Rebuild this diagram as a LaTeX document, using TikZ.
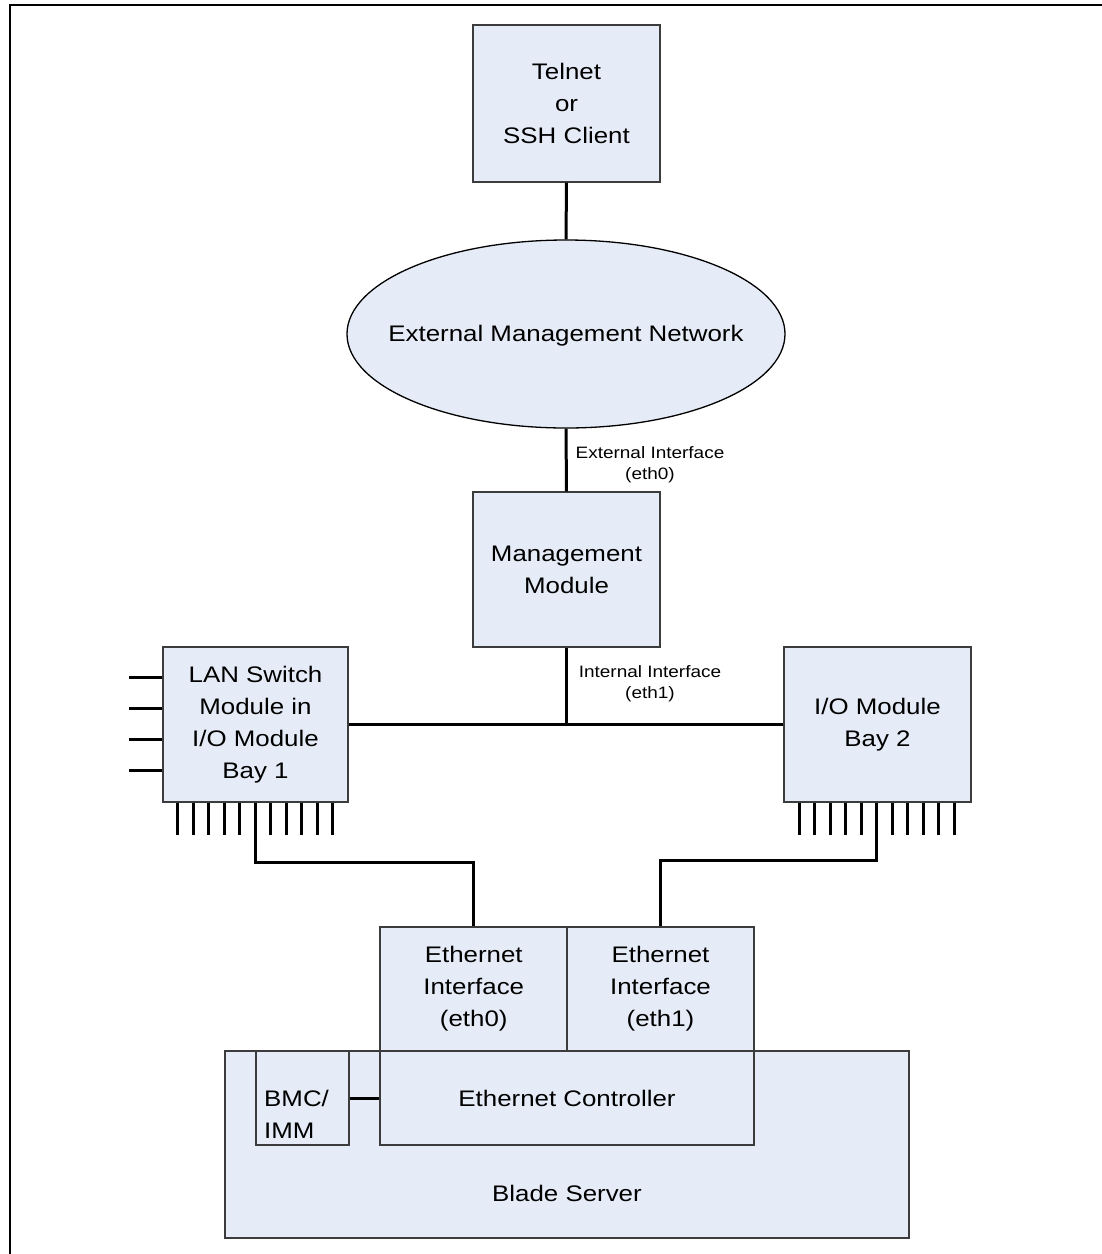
\documentclass[tikz,border=0pt]{standalone}
\usepackage{fontspec}
\setmainfont[FakeStretch=1.15]{Liberation Sans}
\usetikzlibrary{shapes.geometric}
\definecolor{boxfill}{RGB}{230,236,247}
\definecolor{boxline}{RGB}{60,60,60}
\begin{document}
\begin{tikzpicture}[x=1pt,y=-1pt,
  box/.style={draw=boxline,line width=1.2pt,fill=boxfill,rectangle,inner sep=0pt,align=center,font=\fontsize{22.5}{32}\selectfont},
  txt/.style={inner sep=0pt,align=center,font=\fontsize{22.5}{32}\selectfont},
  conn/.style={line width=3pt,black},
  pinline/.style={line width=3pt,black},
  lbl/.style={font=\fontsize{16.5}{21}\selectfont,align=center,inner sep=0pt},
]
\useasboundingbox (0,0) rectangle (1102,1254);
\fill[white] (0,0) rectangle (1102,1254);
\draw[line width=2pt] (9.5,1254) -- (9.5,4.5) -- (1102,4.5);

% top
\node[box,minimum width=187pt,minimum height=157pt] (telnet) at (566.5,103.5) {Telnet\\or\\SSH Client};
\node[ellipse,draw=black,line width=1.3pt,fill=boxfill,minimum width=438pt,minimum height=188pt,inner sep=0pt] (net) at (566,334) {};
\node[txt] (nettxt) at (566,336) {External Management Network};
\node[box,minimum width=187pt,minimum height=155pt] (mm) at (566.5,569.5) {Management\\Module};
\node[box,minimum width=185pt,minimum height=155pt] (lan) at (255.5,724.5) {LAN Switch\\Module in\\I/O Module\\Bay 1};
\node[box,minimum width=187pt,minimum height=155pt] (io2) at (877.5,724.5) {I/O Module\\Bay 2};

% bottom
\node[box,minimum width=684pt,minimum height=187pt] (blade) at (567,1144.5) {};
\node[txt] (bladetxt) at (567,1193) {Blade Server};
\node[box,minimum width=187.5pt,minimum height=124pt] (eth0) at (473.75,989) {Ethernet\\Interface\\(eth0)};
\node[box,minimum width=187pt,minimum height=124pt] (eth1) at (660.5,989) {Ethernet\\Interface\\(eth1)};
\node[box,minimum width=374pt,minimum height=94pt] (ctrl) at (567,1098) {Ethernet Controller};
\node[box,minimum width=93pt,minimum height=94pt] (bmc) at (302.5,1098) {};
\node[txt,align=left,anchor=west] (bmctxt) at (264,1114) {BMC/\\IMM};

% labels
\node[lbl] (extlbl) at (650,465) {External Interface\\(eth0)};
\node[lbl] (intlbl) at (650,684) {Internal Interface\\(eth1)};

% connectors
\coordinate (junc) at (566.5,724.5);
\draw[conn] (telnet.south) -- (net.north);
\draw[conn] (net.south) -- (mm.north);
\draw[conn] (mm.south) -- (junc);
\draw[conn] (lan.east) -- (io2.west);

% pins
\foreach \i in {0,...,10} {
  \draw[pinline] ([xshift={15.5pt+\i*15.5pt}]lan.south west) -- ++(0,32);
  \draw[pinline] ([xshift={16pt+\i*15.5pt}]io2.south west) -- ++(0,32);
}
\foreach \d in {31,62,93,124} {
  \draw[pinline] ([yshift={-\d pt}]lan.north west) -- ++(-33,0);
}

\draw[conn] ([xshift=93pt]lan.south west) -- ++(0,60) -| (eth0.north);
\draw[conn] ([xshift=93.5pt]io2.south west) -- ++(0,58) -| (eth1.north);
\draw[conn] (bmc.east) -- (ctrl.west);
\end{tikzpicture}
\end{document}
